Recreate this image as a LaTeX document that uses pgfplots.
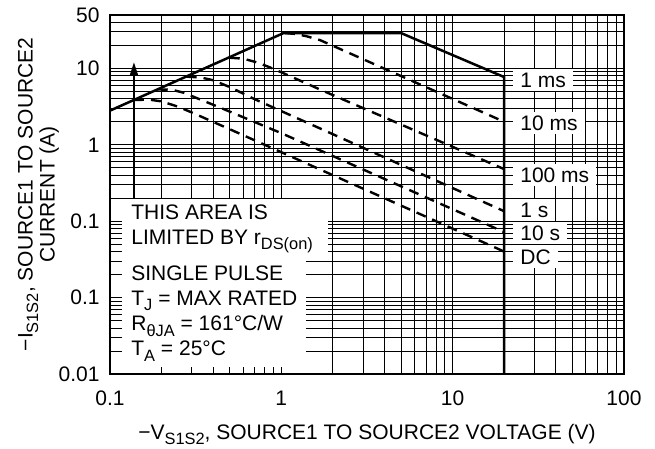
\documentclass[border=0pt]{standalone}
\usepackage{fontspec}
\setmainfont{Liberation Sans}
\usepackage{pgfplots}
\pgfplotsset{compat=1.18}
\usetikzlibrary{arrows.meta}
\newcommand\sub[1]{\raisebox{-0.26em}{\fontsize{8.2}{8.5}\selectfont #1}}

\begin{document}
\begin{tikzpicture}
\fontsize{10.5}{12.6}\selectfont
\path[use as bounding box] (-55pt,-37.5pt) rectangle (272.5pt,187pt);
\begin{axis}[
  scale only axis, width=257pt, height=179.5pt,
  at={(0,0)}, anchor=south west,
  xmode=log, ymode=log,
  xmin=0.1, xmax=100, ymin=0.001, ymax=50,
  xtick={0.1,1,10,100}, xticklabels={0.1,1,10,100},
  ytick={0.001,0.01,0.1,1,10,50}, yticklabels={0.01,0.1,0.1,1,10,50},
  minor xtick={0.2,0.3,0.4,0.5,0.6,0.7,0.8,0.9,2,3,4,5,6,7,8,9,20,30,40,50,60,70,80,90},
  minor ytick={0.002,0.003,0.004,0.005,0.006,0.007,0.008,0.009,0.02,0.03,0.04,0.05,0.06,0.07,0.08,0.09,0.2,0.3,0.4,0.5,0.6,0.7,0.8,0.9,2,3,4,5,6,7,8,9,20,30,40},
  grid=both,
  major grid style={black, line width=0.5pt},
  minor grid style={black, line width=0.5pt},
  major tick length=0pt, minor tick length=0pt,
  axis line style={line width=1.1pt},
  tick label style={font=\fontsize{10.5}{12.6}\selectfont},
  xticklabel style={yshift=-4.7pt},
  yticklabel style={xshift=-1.5pt},
  xlabel={−V\sub{S1S2}, SOURCE1 TO SOURCE2 VOLTAGE (V)},
  xlabel style={at={(axis description cs:0.5,-0.1825)}, anchor=base},
  ylabel={−I\sub{S1S2}, SOURCE1 TO SOURCE2\\CURRENT (A)},
  ylabel style={at={(axis description cs:-0.1391,0.5)}, anchor=center, align=center, font=\fontsize{10.5}{11}\selectfont},
]
% 1 ms boundary (rDS(on) limit, flat, power limit, VDS max)
\addplot[line width=1.25pt] coordinates {(0.1,2.8)(1.03,29)(5,29)(20,7.7)(20,0.001)};
% 10 ms
\addplot[line width=1.2pt, dash pattern=on 5pt off 3.5pt] coordinates {(1.05,29)(1.2,28.3)(1.4,26.4)(1.68,23.5)(20,2.0)};
% 100 ms
\addplot[line width=1.2pt, dash pattern=on 5pt off 3.5pt] coordinates {(0.5,13.8)(0.6,13.4)(0.72,12.0)(0.85,10.4)(1.0,8.9)(1.68,5.3)(20,0.48)};
% 1 s
\addplot[line width=1.2pt, dash pattern=on 5pt off 3.5pt] coordinates {(0.28,7.8)(0.34,7.6)(0.4,7.0)(0.5,5.7)(0.7,3.95)(1.68,1.64)(20,0.135)};
% 10 s
\addplot[line width=1.2pt, dash pattern=on 5pt off 3.5pt] coordinates {(0.19,5.3)(0.23,5.25)(0.27,4.8)(0.32,4.1)(0.45,3.0)(1.0,1.42)(20,0.072)};
% DC
\addplot[line width=1.2pt, dash pattern=on 5pt off 3.5pt] coordinates {(0.138,3.86)(0.17,3.9)(0.2,3.7)(0.25,3.15)(0.3,2.65)(0.5,1.6)(1.0,0.8)(20,0.04)};
% arrow
\addplot[line width=1.1pt, -{Triangle[length=6.5pt,width=3.8pt]}] coordinates {(0.138,0.2)(0.138,12.1)};

% right labels
\tikzset{lbl/.style={fill=white, anchor=west, inner xsep=3.5pt, inner ysep=2pt}}
\node[lbl] at (axis cs:22.5,7.05) {1 ms};
\node[lbl] at (axis cs:22.5,1.93) {10 ms};
\node[lbl] at (axis cs:22.5,0.403) {100 ms};
\node[lbl] at (axis cs:22.5,0.140) {1 s};
\node[lbl] at (axis cs:22.5,0.0701) {10 s};
\node[lbl] at (axis cs:22.5,0.0341) {DC};

% left annotations
\node[fill=white, anchor=north west, align=left, inner xsep=4.5pt, inner ysep=3pt,
      font=\fontsize{10.5}{12.5}\selectfont] at (axis cs:0.1175,0.2)
  {THIS AREA IS\\LIMITED BY r\sub{DS(on)}\hspace*{3pt}};
\node[fill=white, anchor=north west, align=left, inner xsep=4.5pt, inner ysep=3pt,
      font=\fontsize{10.5}{12.65}\selectfont] at (axis cs:0.1175,0.032)
  {SINGLE PULSE\\T\sub{J} = MAX RATED\\R\sub{θJA} = 161°C/W\\T\sub{A} = 25°C};
\end{axis}
\end{tikzpicture}
\end{document}
